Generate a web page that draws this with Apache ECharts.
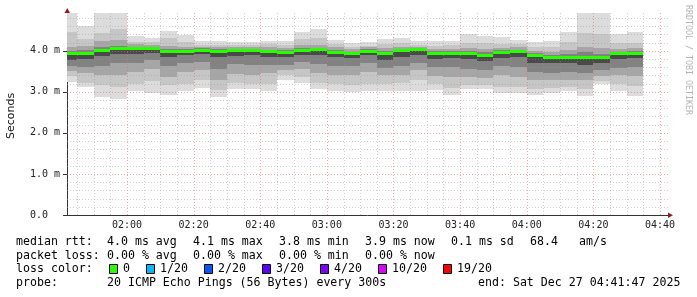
<!DOCTYPE html>
<html><head><meta charset="utf-8">
<script src="https://cdn.jsdelivr.net/npm/echarts@6/dist/echarts.min.js"></script>
<style>html,body{margin:0;padding:0;background:#fff;}#c{width:697px;height:297px;}</style>
</head><body><div id="c"></div>
<script>
// ---- data (ms) ----
const slotStart = ['01:40','01:45','01:50','01:55','02:00','02:05','02:10','02:15','02:20','02:25','02:30','02:35','02:40','02:45','02:50','02:55','03:00','03:05','03:10','03:15','03:20','03:25','03:30','03:35','03:40','03:45','03:50','03:55','04:00','04:05','04:10','04:15','04:20','04:25','04:30'];
const pingMax = [4.95,4.61,4.95,4.95,4.35,4.32,4.47,4.38,4.23,4.24,4.21,4.21,4.25,4.24,4.45,4.54,4.27,4.18,4.22,4.29,4.32,4.24,4.23,4.25,4.41,4.37,4.34,4.27,4.21,4.23,4.45,4.95,4.95,4.41,4.45];
const pingHi1 = [4.45,4.28,4.44,4.52,4.22,4.22,4.30,4.22,4.15,4.14,4.14,4.13,4.16,4.14,4.28,4.30,4.16,4.10,4.12,4.16,4.18,4.14,4.12,4.14,4.20,4.18,4.16,4.16,4.10,4.08,4.22,4.44,4.42,4.18,4.20];
const pingHi2 = [4.10,4.12,4.23,4.26,4.16,4.15,4.12,4.10,4.10,4.08,4.08,4.08,4.08,4.06,4.14,4.15,4.08,4.04,4.08,4.06,4.10,4.09,4.05,4.05,4.06,4.04,4.06,4.08,4.00,3.96,4.02,4.10,4.06,4.04,4.06];
const pingHi3 = [4.00,4.02,4.10,4.12,4.10,4.10,4.05,4.04,4.06,4.04,4.05,4.05,4.03,4.01,4.06,4.07,4.01,3.98,4.04,4.00,4.05,4.06,3.99,4.00,3.99,3.96,4.01,4.03,3.94,3.89,3.92,3.96,3.92,3.98,3.99];
const pingHi4 = [3.97,3.97,4.04,4.08,4.07,4.08,4.01,4.01,4.03,4.02,4.03,4.03,4.00,3.98,4.03,4.04,3.98,3.95,4.01,3.97,4.02,4.04,3.96,3.97,3.96,3.92,3.98,4.01,3.91,3.86,3.87,3.88,3.86,3.96,3.96];
const medianRtt = [3.94,3.94,4.01,4.05,4.05,4.06,3.98,3.98,4.01,3.99,4.00,4.01,3.98,3.96,4.01,4.02,3.96,3.93,3.99,3.94,4.00,4.02,3.93,3.94,3.93,3.89,3.96,3.99,3.88,3.83,3.83,3.83,3.83,3.93,3.93];
const pingLo4 = [3.78,3.80,3.88,3.93,3.92,3.95,3.86,3.89,3.91,3.84,3.88,3.89,3.86,3.84,3.89,3.90,3.85,3.83,3.89,3.78,3.86,3.89,3.81,3.83,3.80,3.74,3.83,3.84,3.70,3.70,3.70,3.66,3.70,3.81,3.83];
const pingLo3 = [3.62,3.60,3.62,3.70,3.70,3.78,3.62,3.70,3.72,3.55,3.68,3.66,3.66,3.66,3.72,3.68,3.64,3.62,3.70,3.58,3.62,3.70,3.60,3.60,3.56,3.52,3.62,3.60,3.48,3.46,3.48,3.46,3.52,3.58,3.60];
const pingLo2 = [3.50,3.45,3.41,3.42,3.48,3.55,3.36,3.48,3.52,3.30,3.44,3.42,3.45,3.52,3.55,3.46,3.42,3.40,3.48,3.40,3.40,3.52,3.38,3.36,3.36,3.34,3.40,3.36,3.30,3.28,3.30,3.28,3.38,3.40,3.38];
const pingLo1 = [3.38,3.22,3.17,3.12,3.20,3.26,3.16,3.20,3.30,3.05,3.22,3.20,3.20,3.40,3.36,3.22,3.18,3.16,3.20,3.20,3.22,3.28,3.18,3.10,3.16,3.16,3.12,3.12,3.08,3.10,3.12,3.08,3.26,3.18,3.14];
const pingMin = [3.25,3.11,2.88,2.83,3.01,2.98,2.93,3.01,3.10,2.88,3.06,3.07,3.03,3.28,3.21,3.06,3.01,2.99,3.01,3.02,3.03,3.03,3.05,2.93,3.06,3.06,2.96,2.97,2.93,2.97,3.01,2.90,3.18,3.03,2.89];

const xTickLabels = ['02:00','02:20','02:40','03:00','03:20','03:40','04:00','04:20','04:40'];
const yTickValues = [0,1,2,3,4];
const yTickLabels = ['0.0  ','1.0 m','2.0 m','3.0 m','4.0 m'];

const rttStats = ['4.0 ms avg','4.1 ms max','3.8 ms min','3.9 ms now','0.1 ms sd','68.4','am/s'];
const lossStats = ['0.00 % avg','0.00 % max','0.00 % min','0.00 % now'];
const lossLabels = ['0','1/20','2/20','3/20','4/20','10/20','19/20'];
const lossColors = ['#26ff00','#00b8ff','#0059ff','#5e00ff','#7e00ff','#dd00ff','#ff0000'];
const probeText = '20 ICMP Echo Pings (56 Bytes) every 300s';
const endText = 'end: Sat Dec 27 04:41:47 2025';

// ---- helpers ----
const toMin = s => { const p = s.split(':').map(Number); return p[0]*60 + p[1]; };
const STEP = 5;
const X_MIN = toMin('01:42'), X_MAX = 282.4, Y_MAX = 4.92;
const smokeColors = ['#dcdcdc','#c6c6c6','#a6a6a6','#828282','#4a4a4a'];
const MONO = '"DejaVu Sans Mono", monospace';

const smokeData = slotStart.map((s,i)=>[toMin(s), pingMin[i], pingLo1[i], pingLo2[i], pingLo3[i], pingLo4[i], pingHi4[i], pingHi3[i], pingHi2[i], pingHi1[i], pingMax[i], medianRtt[i]]);

const vGrid = [];
for (let m = 105; m <= 280; m += 5) vGrid.push([m, 0, m % 20 === 0 ? 1 : 0]);
const hGrid = [];
for (let k = 1; k <= 24; k++) hGrid.push([X_MIN, k/5, k % 5 === 0 ? 1 : 0]);

function clipTo(cs, r){
  return echarts.graphic.clipRectByRect(r, {x:cs.x, y:cs.y, width:cs.width, height:cs.height});
}

const chart = echarts.init(document.getElementById('c'), null, {renderer:'canvas', width:697, height:297});
chart.setOption({
  animation:false,
  backgroundColor:'#ffffff',
  grid:{left:67, right:29, top:13, bottom:82},
  xAxis:{
    type:'value', min:X_MIN, max:X_MAX,
    axisLine:{lineStyle:{color:'#333', width:1}},
    axisTick:{show:false},
    splitLine:{show:false},
    axisLabel:{customValues:xTickLabels.map(toMin), formatter:v=>xTickLabels[xTickLabels.map(toMin).indexOf(v)]||'', fontFamily:MONO, fontSize:10, color:'#222', margin:5}
  },
  yAxis:{
    type:'value', min:0, max:Y_MAX,
    axisLine:{show:true, lineStyle:{color:'#333', width:1}},
    axisTick:{show:true, length:4, customValues:yTickValues, lineStyle:{color:'#333'}},
    splitLine:{show:false},
    axisLabel:{customValues:yTickValues, formatter:v=>yTickLabels[yTickValues.indexOf(v)]||'', fontFamily:MONO, fontSize:10, color:'#222', margin:7}
  },
  series:[
    {
      type:'custom', z:2, clip:false, data:smokeData,
      encode:{x:0, y:11},
      renderItem(params, api){
        const cs = params.coordSys;
        const t0 = api.value(0);
        const x0 = Math.round(api.coord([t0, 0])[0]);
        const x1 = Math.round(api.coord([t0 + STEP, 0])[0]);
        const children = [];
        for (let k = 0; k < 5; k++) {
          const yHi = Math.round(api.coord([t0, api.value(10 - k)])[1]);
          const yLo = Math.round(api.coord([t0, api.value(1 + k)])[1]);
          const r = clipTo(cs, {x:x0, y:yHi, width:x1 - x0, height:yLo - yHi});
          if (r) children.push({type:'rect', shape:r, style:{fill:smokeColors[k]}});
        }
        return {type:'group', children};
      }
    },
    {
      type:'custom', z:3, clip:false, data:vGrid, encode:{x:0, y:1}, silent:true,
      renderItem(params, api){
        const cs = params.coordSys;
        const px = Math.round(api.coord([api.value(0), 0])[0]) + 0.5;
        const major = api.value(2) === 1;
        return {type:'line', shape:{x1:px, y1:cs.y, x2:px, y2:cs.y + cs.height}, style:{stroke: major ? 'rgba(225,110,110,0.6)' : 'rgba(150,150,150,0.45)', lineWidth:1, lineDash:[1,2]}};
      }
    },
    {
      type:'custom', z:3, clip:false, data:hGrid, encode:{x:0, y:1}, silent:true,
      renderItem(params, api){
        const cs = params.coordSys;
        const py = Math.round(api.coord([X_MIN, api.value(1)])[1]) + 0.5;
        const major = api.value(2) === 1;
        return {type:'line', shape:{x1:cs.x, y1:py, x2:cs.x + cs.width, y2:py}, style:{stroke: major ? 'rgba(225,110,110,0.6)' : 'rgba(150,150,150,0.45)', lineWidth:1, lineDash:[1,2]}};
      }
    },
    {
      type:'custom', z:4, clip:false, data:smokeData, encode:{x:0, y:11},
      renderItem(params, api){
        const cs = params.coordSys;
        const t0 = api.value(0);
        const x0 = Math.round(api.coord([t0, 0])[0]);
        const x1 = Math.round(api.coord([t0 + STEP, 0])[0]);
        const ym = api.coord([t0, api.value(11)])[1];
        const r = clipTo(cs, {x:x0, y:Math.round(ym - 1.5), width:x1 - x0, height:3});
        return r ? {type:'rect', shape:r, style:{fill:lossColors[0]}} : null;
      }
    }
  ]
});

// ---- decorations and legend text ----
const tl = chart.convertToPixel({gridIndex:0}, [X_MIN, Y_MAX]);
const br = chart.convertToPixel({gridIndex:0}, [X_MAX, 0]);
const arrowColor = '#9b1c1c';
const g = [];
g.push({type:'polygon', shape:{points:[[tl[0]-2.5, tl[1]], [tl[0]+3, tl[1]], [tl[0]+0.25, tl[1]-5]]}, style:{fill:arrowColor}});
g.push({type:'polygon', shape:{points:[[br[0], br[1]-2.5], [br[0], br[1]+3], [br[0]+5, br[1]+0.25]]}, style:{fill:arrowColor}});
g.push({type:'text', x:11, y:116, rotation:Math.PI/2, style:{text:'Seconds', font:'11px "DejaVu Sans", sans-serif', fill:'#111', align:'center', verticalAlign:'middle'}});
g.push({type:'text', x:688, y:60, rotation:-Math.PI/2, style:{text:'RRDTOOL / TOBI OETIKER', font:'8.3px ' + MONO, fill:'#b4b4b4', align:'center', verticalAlign:'middle'}});

const LF = '11.6px ' + MONO;
const CW = 7;
function txt(x, y, s){ g.push({type:'text', x, y, style:{text:s, font:LF, fill:'#000', align:'left', verticalAlign:'middle'}}); }
const rowY = [241.5, 255.5, 269, 283];
const colX = [107, 193, 279, 365, 451, 530, 579];
txt(16, rowY[0], 'median rtt:');
rttStats.forEach((s,i)=>txt(colX[i], rowY[0], s));
txt(16, rowY[1], 'packet loss:');
lossStats.forEach((s,i)=>txt(colX[i], rowY[1], s));
txt(16, rowY[2], 'loss color:');
let sx = 109;
lossLabels.forEach((s,i)=>{
  g.push({type:'rect', shape:{x:sx + 0.5, y:rowY[2] - 4.5, width:8, height:9}, style:{fill:lossColors[i], stroke:'#000', lineWidth:1}});
  txt(sx + 14, rowY[2], s);
  sx = sx + 14 + s.length * CW + 16;
});
txt(16, rowY[3], 'probe:');
txt(107, rowY[3], probeText);
txt(478, rowY[3], endText);
chart.setOption({graphic:{elements:g}});
</script>
</body></html>
